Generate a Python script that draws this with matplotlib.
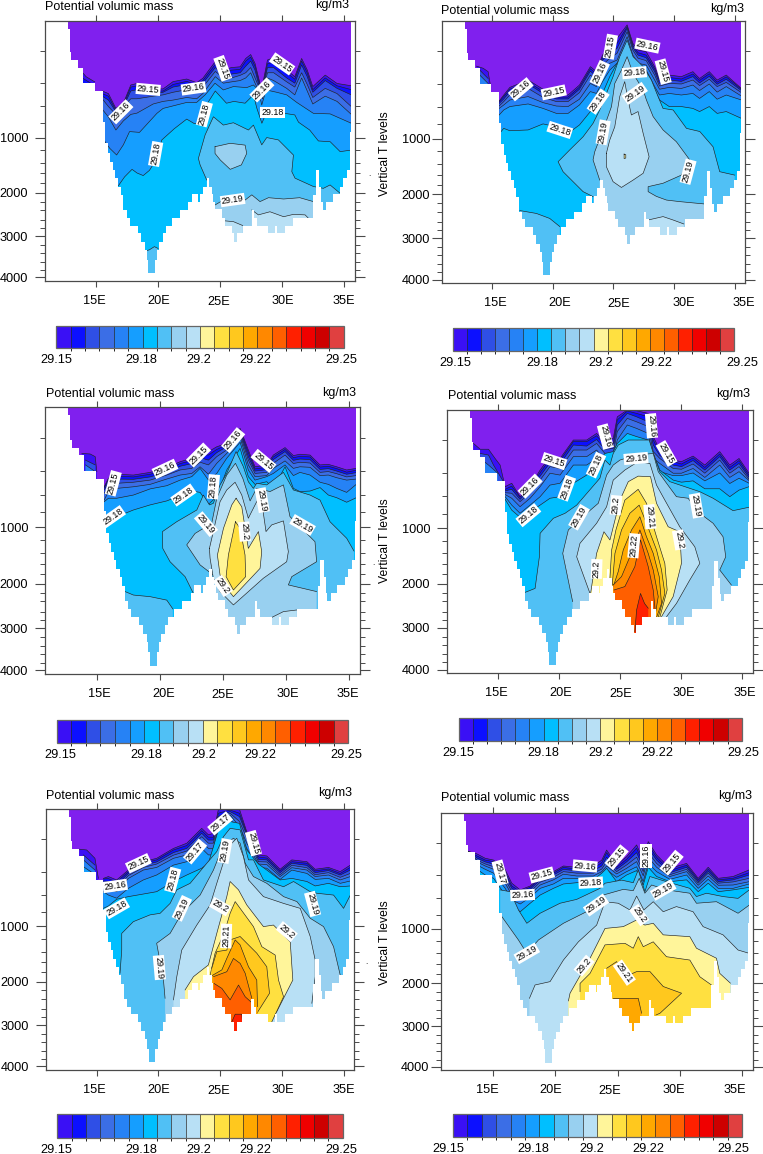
import matplotlib
matplotlib.use('Agg')
import numpy as np
import matplotlib.pyplot as plt
from matplotlib.colors import ListedColormap, BoundaryNorm
from matplotlib.cm import ScalarMappable
from matplotlib.transforms import ScaledTranslation

plt.rcParams['font.family'] = ['Liberation Sans', 'DejaVu Sans']

W, H = 763, 1154

# colour levels
levels = [29.15, 29.155, 29.16, 29.165, 29.17, 29.175, 29.18, 29.185, 29.19, 29.195, 29.2,
          29.205, 29.21, 29.215, 29.22, 29.225, 29.23, 29.235, 29.24, 29.245, 29.25]
colors = ['#3A10F5', '#0C10FF', '#2F4FE6', '#3B6EE6', '#2682F5', '#159EFF', '#00BFFF', '#50C0F5',
          '#98D0F0', '#B8E0F5', '#FFF59A', '#FFE040', '#FFC81E', '#FFA800', '#FF8800', '#FF5F00',
          '#FF2000', '#F00000', '#CD0000', '#E04040']
purple = '#8020EE'
cbar_ticks = [29.15, 29.18, 29.2, 29.22, 29.25]
cbar_labels = ['29.15', '29.18', '29.2', '29.22', '29.25']

# vertical axis: y is the T level (0-100), ticks are labelled in metres
depth_major = [1000, 2000, 3000, 4000]
lev_major = [44.95, 66.1, 82.8, 98.6]
lev_minor = [11.5, 24.05, 32.8, 39.4, 49.7, 54.55, 58.6, 62.5, 69.5, 72.7, 76.6, 79.75, 86.2, 89.4, 92.6, 95.8]
lon_ticks = [15, 20, 25, 30, 35]
lon_labels = ['15E', '20E', '25E', '30E', '35E']

# sea floor and coast (level of the bottom, per longitude step)
bottom_lon = [10, 12.75, 12.9, 13.0, 13.58, 13.98, 14.92, 15.55, 15.75, 15.94, 16.13, 16.35, 16.53, 16.8, 16.99,
              17.2, 17.47, 17.74, 18.36, 18.62, 18.95, 19.08, 19.21, 19.75, 19.94, 20.1, 20.37, 20.64, 21.1,
              21.76, 22.43, 22.7, 23.24, 23.38, 23.64, 23.91, 24.1, 24.31, 24.45, 24.58, 25.12, 25.39, 25.92,
              26.14, 26.33, 26.81, 27.54, 27.72, 27.94, 28.88, 29.41, 29.6, 30.22, 30.89, 32.5, 32.71, 32.98,
              33.14, 33.25, 33.52, 34.06, 34.65, 34.92, 35.18, 35.45, 35.52, 36]
bottom_lev = [-1, 3, 12.2, 15.1, 18, 24, 27, 38.8, 47.1, 51, 54.1, 57.3, 60.5, 63.7, 67,
              72.7, 75.7, 78.7, 81.7, 84.9, 88.1, 91.9, 97, 91.9, 88, 85, 81.7, 78.7, 75.7,
              72.7, 69.5, 66.7, 69.5, 66.7, 63.7, 60.5, 63.7, 66.7, 69.5, 72.3, 75.7, 78.7, 81.7,
              84.9, 81.7, 78.7, 72.7, 75.7, 78.7, 81.7, 78.7, 81.7, 78.7, 75.7, 66.9, 57.3, 63.7,
              69.8, 72.7, 69.8, 66.7, 63.7, 60.5, 57.3, 42.6, -1, -1]

# panel 1 -------------------------------------------------------------
p1_lon = [15.5, 16.0, 16.6, 17.2, 17.8, 18.3, 19.6, 20.4, 21.2, 22.3, 23.1, 23.6, 24.6, 25.25, 25.9, 26.6, 27.05,
          27.45, 27.8, 28.2, 28.4, 28.8, 29.3, 30.35, 31.0, 31.55, 32.0, 32.45, 33.45, 34.4, 35.55]
p1_15 = [27, 28, 33.7, 31.7, 24.7, 24.1, 26.2, 26.2, 23.4, 22.4, 23.8, 22.1, 15.7, 18.9, 18, 17.7, 14.5, 13, 16.4, 24.1, 24.7, 15.1, 14.2, 18.9, 21.5, 14.5, 18.9, 25.3, 20.9, 24.1, 25]
p1_155 = [28, 29, 34.5, 32.5, 25.5, 25, 27, 27, 24.5, 23.3, 24.8, 23, 16.8, 20, 19, 18.7, 15.5, 14, 17.5, 25, 26, 16.5, 16, 20, 22.5, 15.5, 20, 26.5, 22, 25, 26.5]
p1_16 = [29, 30.5, 35, 33, 27, 26.5, 28, 27.5, 25.5, 24.5, 25.5, 24, 18, 21, 20.5, 20, 17.5, 15.5, 19, 26.5, 27, 18, 18, 22, 24, 17, 21.5, 27.5, 23, 26, 28.5]
p1_165 = [30, 33, 36, 33, 30, 30, 29, 28.5, 27.5, 26.5, 27, 25.5, 19.5, 22, 22, 21, 20, 18, 22, 26.5, 28, 20, 20, 23.5, 25.5, 20, 24.5, 29.5, 26, 28, 33]
p1_17 = [34, 37, 42, 38.5, 36, 35.5, 32, 31, 30.5, 29.5, 30, 28, 21.5, 24, 23.5, 23, 22, 20, 24, 28, 30, 22, 23, 26, 28.5, 22, 27, 32, 29, 31, 36]
p1_lines = [
    (29.15, [13.75, 14.2, 14.9], [19, 21.5, 23.5]),
    (29.155, [13.9, 14.9], [22, 25]),
    (29.175, [15.5, 15.75, 16.1, 16.66, 17.2, 17.7, 18.5, 19.9, 20.4, 22.3, 23.1, 23.78, 24.58, 25.25, 26.06, 27.13, 27.67, 28.07, 28.34, 28.69, 29.55, 30.35, 31.16, 32.5, 33.84, 35.55],
     [44, 46.7, 49, 51.6, 47.7, 42.6, 42.9, 35.6, 33.7, 31.4, 31.4, 28.5, 24, 26.6, 25.3, 25.7, 24.7, 26.6, 32.4, 26.6, 27.5, 28.5, 31.4, 35.6, 35.8, 39.4]),
    (29.18, [16.8, 17.3, 17.9, 18.3, 18.8, 19.3, 19.75, 20.3, 21.3, 22.3, 22.9, 23.3, 23.8, 24.6, 25.5, 26.1, 27.0, 27.67, 27.95, 28.35, 28.74, 29.3, 30.2, 31.0, 31.3, 32.2, 32.9, 33.85, 34.65, 35.55],
     [63.4, 60, 57.1, 58.5, 59.5, 57.5, 54.1, 45.8, 41.5, 37.8, 39.5, 39.5, 33, 27, 31.7, 31, 31.7, 28.5, 33.7, 39.4, 35, 35.3, 35.6, 36.2, 39, 42, 46.2, 46.5, 50.3, 49.7]),
    (29.185, [23.91, 23.38, 23.24, 23.78, 24.45, 25.25, 26.06, 27.27, 27.67, 28.34, 28.74, 29.68, 30.89, 30.76, 31.02, 32.5, 33.3, 33.84, 34.65, 34.92],
     [61.2, 55.4, 52.9, 43.9, 36.9, 40.1, 39.2, 42, 40.1, 47.7, 44.9, 45.8, 51.6, 58, 60.5, 63.7, 64.4, 63.1, 66.3, 69.5]),
    (29.185, [19.0, 19.3, 19.7, 20.0], [88.5, 88, 86.8, 87.5]),
    (29.19, [24.58, 25.25, 26.06, 27, 27.54, 28.2, 28.88, 30.1, 31.4, 32.5], [70.8, 68.9, 68.9, 68.9, 66.9, 69.5, 68, 68.5, 68, 69.5]),
    (29.19, [24.58, 25.8, 27, 27.13, 26.7, 25.8, 25, 24.58, 24.58], [48.4, 47.1, 47.8, 51, 55.4, 57.1, 53.5, 51, 48.4]),
    (29.195, [25.39, 26.06, 26.81], [76.9, 77.2, 78.7]),
    (29.195, [27.54, 28.07, 29, 30.1, 30.89, 31.83, 32.1], [72.7, 74.6, 73.4, 75.3, 74.4, 74.6, 75.9]),
]
p1_text = [('29.15', 19.2, 26.4, -5), ('29.16', 17, 35, 45), ('29.16', 22.85, 26, 8), ('29.15', 25.2, 18.3, -70),
           ('29.16', 28.35, 26.6, 45), ('29.15', 29.98, 16.6, -35), ('29.18', 23.72, 35.9, 75), ('29.18', 29.2, 35.3, 0),
           ('29.18', 19.8, 51.2, 80), ('29.19', 26, 68.9, 8)]

# panel 2 -------------------------------------------------------------
p2_lon = [15.58, 15.96, 16.46, 17.97, 19.2, 20.3, 21.26, 22.2, 23.1, 23.6, 24.1, 24.7, 25.3, 26.13, 26.6, 27.03, 27.7, 28.4, 28.8, 29.6, 30.6, 31.55, 32.1, 32.9, 33.55, 34.3, 35.55]
p2_15 = [30.6, 28.3, 25.4, 22.6, 26.1, 28.3, 28.3, 24.5, 17.5, 19.4, 13.1, 9.9, 6.7, 1.6, 8.6, 11.2, 11.8, 17.5, 22, 20.7, 21.3, 19.4, 22, 19.4, 22.6, 20.7, 25.8]
p2_155 = [30.8, 28.9, 26.1, 23.4, 26.9, 29.1, 29.1, 25.3, 18.3, 20.2, 14, 11.2, 8.6, 2.3, 9.4, 12.2, 13.1, 18.4, 22.8, 21.6, 22.2, 20.3, 22.7, 20.2, 23.4, 21.4, 26.1]
p2_16 = [31.5, 29.8, 27, 24.1, 27.7, 29.8, 29.8, 26.1, 19.2, 21.3, 15, 12.7, 10.5, 2.9, 10.2, 13.1, 14.1, 19.4, 23.9, 22.6, 23.1, 21.3, 23.7, 21.2, 24.2, 22.3, 26.6]
p2_165 = [32.5, 30.8, 28.3, 25.8, 29.2, 30.8, 30.8, 27.4, 20.7, 22.6, 16.9, 14.3, 12.4, 4.2, 11.2, 14.3, 15.2, 20.7, 24.9, 23.9, 24.1, 22.6, 24.7, 22.3, 25.1, 23.5, 27.4]
p2_17 = [33.4, 32.1, 30.2, 28.9, 31.2, 32.5, 32.7, 29.9, 23.9, 25.1, 19.4, 16.2, 15, 6.1, 13.1, 16.2, 16.9, 22.6, 26.1, 25.4, 25.8, 24.5, 26.6, 24.1, 27.2, 25.1, 28.7]
p2_175 = [35.9, 34, 32.7, 31.7, 33.4, 35.3, 35.3, 32.1, 27, 27.7, 23.2, 18.8, 16.2, 8.6, 15, 18.1, 18.8, 25.1, 28.3, 27.7, 28.3, 27.7, 29.6, 27, 29.9, 28.3, 30.2]
p2_18 = [43.1, 41, 41.9, 41.6, 39.3, 40.4, 42.9, 39.7, 34.6, 31.5, 27.7, 21.3, 16.2, 11.8, 17.5, 20.7, 20.7, 26.4, 30.2, 32.7, 32.7, 33.4, 34.6, 32.7, 35.3, 34.6, 37.2]
p2_lines = [
    (29.15, [13.71, 14.26, 14.67, 14.86], [17.3, 18.1, 19.4, 24.5]),
    (29.16, [13.98, 14.67], [18.8, 22]),
    (29.17, [13.98, 14.67], [20.7, 23.9]),
    (29.185, [23.32, 22.5, 20.85, 20.44, 21.4, 22.5, 23.32, 23.87, 24.42, 24.97, 25.52, 26.13, 26.62, 27.45, 28.13, 28.68, 29.09, 29.92, 31.02, 32.12, 33.21, 33.76, 35],
     [67, 65.1, 57.5, 53.7, 49.2, 44.2, 39.1, 34, 27.7, 21.3, 13.7, 7.4, 13.7, 17.5, 22.6, 28.9, 33.4, 34, 41, 42.2, 48, 57.5, 58.8]),
    (29.185, [17.28, 18.65, 19.75, 20.58], [72.3, 73.4, 75.3, 78.4]),
    (29.19, [23.87, 23.32, 23.46, 24.15, 24.84, 25.11, 25.66, 26.13, 26.62, 27.45, 27.72, 28.27, 29.09, 30.19, 31.29, 30.6, 29.09, 27.86, 27.86, 28.54, 29.37, 30.47, 32.53],
     [60.7, 53, 49.9, 41.6, 32.7, 23.9, 18.8, 13.7, 20.1, 26.4, 30.2, 36.5, 41.6, 46.1, 53, 58.8, 61.9, 63.2, 65.1, 66.9, 68.3, 68.9, 69.8]),
    (29.195, [24.42, 24.7, 25.11, 25.52, 25.93, 26.21, 26.48, 27.03, 27.45, 27.94, 27.45, 26.62, 25.66, 24.97, 24.42, 24.42],
     [50.5, 45.4, 40.4, 28.9, 23.2, 30.2, 35.9, 34.6, 42.9, 51.8, 58.1, 60.7, 63.5, 61.3, 55.6, 50.5]),
    (29.195, [27.86, 29.09, 29.92, 30.8], [75.9, 74.6, 75.9, 77.4]),
    (29.2, [25.88, 26.02, 26.02, 25.88, 25.88], [50.8, 51, 52.3, 52.5, 50.8]),
]
p2_text = [('29.16', 17.36, 26.1, 40), ('29.15', 20.08, 27.3, 12), ('29.18', 20.58, 41.6, -18), ('29.18', 23.74, 30.8, 55),
           ('29.16', 23.87, 20, 65), ('29.15', 24.75, 9.9, 80), ('29.16', 27.8, 9.5, -12), ('29.18', 26.73, 19.8, 5),
           ('29.19', 26.76, 27.7, 35), ('29.19', 24.15, 42.5, 80), ('29.15', 29.1, 19.4, -75), ('29.19', 31.15, 57.5, 75)]

# panel 3 -------------------------------------------------------------
p3_lon = [15.58, 15.92, 16.58, 17.9, 19.22, 20.54, 21.6, 22.52, 23.18, 23.84, 24.5, 25.29, 26.35, 27, 27.53, 28.46, 28.98, 29.91, 30.57, 31.09, 31.89, 32.68, 33.34, 34, 34.79, 35.55]
p3_15 = [29.8, 26.6, 25.1, 25.4, 24.4, 22.6, 20.4, 19.1, 16.6, 16.6, 14.8, 13.5, 7.9, 16, 22.3, 21.6, 17.9, 15.1, 18.1, 17.6, 17.9, 21.6, 21.4, 22.3, 23.5, 22.9]
p3_155 = [30.1, 27.3, 25.8, 26.1, 25.1, 23.4, 21.1, 20, 17.6, 17.9, 15.8, 14.1, 8.5, 17, 23.1, 22.5, 18.6, 15.8, 18.9, 18.4, 18.6, 22.4, 22.1, 23, 24.3, 23.6]
p3_16 = [31, 28.3, 26.9, 27, 26.1, 24.3, 22.1, 21.1, 18.9, 19.8, 17, 14.8, 9.1, 18.5, 23.9, 23.4, 19.6, 16.6, 19.9, 19.4, 19.6, 23.3, 23, 23.9, 25.1, 24.5]
p3_165 = [32.3, 29.8, 28.5, 28.1, 27.3, 25.4, 23.5, 22.9, 20.6, 21.6, 18.5, 16, 10.1, 19.8, 24.8, 24.4, 21, 17.9, 21.1, 20.6, 20.9, 24.4, 24.1, 24.9, 26.1, 25.6]
p3_17 = [34.8, 31.6, 30.4, 29.8, 28.9, 26.9, 25.4, 24.8, 22.3, 25.1, 21, 17.3, 11.3, 21.6, 26, 25.6, 22.9, 20.1, 22.9, 22.3, 22.5, 25.6, 25.4, 26.4, 27.3, 26.9]
p3_175 = [35.4, 34.1, 34.1, 32.9, 30.6, 29.4, 27.3, 26, 22.9, 27.3, 24.8, 19.1, 13.1, 23.5, 27.3, 26, 24.8, 21.6, 25.6, 24.4, 25.4, 28.1, 28.9, 30.4, 31.9, 28.9]
p3_18 = [39.8, 40.6, 41, 38.5, 36.6, 35.1, 33.1, 31.4, 31.9, 36.4, 33.5, 23.5, 15.4, 26, 28.9, 27.9, 30.4, 22.3, 30.4, 31.6, 31.4, 30.1, 32.9, 33.9, 35.6, 33.9]
p3_lines = [
    (29.15, [13.81, 14.47, 14.87, 15], [17.3, 17.5, 18.5, 24.1]),
    (29.16, [14.1, 14.87], [19.8, 21.6]),
    (29.17, [14.1, 14.87], [21.6, 24.1]),
    (29.185, [22.65, 21.99, 20.8, 20.22, 20.2, 21.33, 22.92, 23.44, 23.92, 24.23, 24.76, 25.29, 26.03, 26.61, 27, 27.4, 27.66, 28.46, 29.78, 30.57, 31.89, 32.68, 33.47, 34.79, 35.37],
     [69.8, 63.5, 57.9, 52.9, 46.6, 42.9, 38.5, 32.9, 36.6, 36, 29.1, 24.8, 16.6, 22.3, 27.9, 30.4, 28.5, 29.1, 24.4, 31, 32.9, 34.8, 42.9, 49.1, 53.9]),
    (29.185, [17.24, 17.9, 19.22, 20.54, 21.02], [69.1, 70.4, 71, 72.3, 75.6]),
    (29.19, [24.23, 23.18, 22.12, 22.78, 24.1, 24.5, 25.29, 25.98, 26.56, 27.14, 27.66, 28.72, 29.78, 30.3, 32.28, 32.41, 30.44, 30.17, 32.41],
     [62.9, 59.1, 51.6, 47.3, 43.5, 34.1, 25.4, 21, 26.6, 35.1, 30.4, 31.6, 29.1, 41, 50.4, 57.9, 63.5, 66.6, 69.1]),
    (29.195, [23.92, 24.23, 24.76, 25.29, 25.95, 26.48, 27, 27.8, 28.06, 28.4, 28.85, 29.78, 30.17, 30.04, 28.19, 25.82, 24.76, 24.23, 23.97, 23.92],
     [52.9, 46.6, 35.4, 31, 28.1, 32.9, 41.6, 34.1, 35.4, 46.6, 44.1, 42.6, 54.1, 57.9, 64.1, 74.1, 69.1, 64.1, 56.6, 52.9]),
    (29.195, [28.85, 29.78, 30.83], [78.8, 76.6, 76]),
    (29.2, [26.03, 26.48, 27, 27.8, 28.06, 27.93, 25.82, 25.29, 24.76, 24.55, 25.03, 25.69, 26.03],
     [34.1, 37.3, 52.9, 46.6, 54.1, 60.4, 71, 67.9, 62.9, 55.4, 45.4, 36.6, 34.1]),
    (29.205, [25.98, 26.35, 26.74, 26.79, 25.82, 25.24, 25.42, 25.98], [42.9, 45.4, 55.4, 63.5, 68.5, 63.5, 55.4, 42.9]),
]
p3_text = [('29.15', 16.3, 28.5, 75), ('29.18', 16.27, 41, 35), ('29.16', 20.4, 23.1, 25), ('29.15', 23.05, 17.9, 45),
           ('29.16', 25.8, 12.3, 50), ('29.15', 28.2, 20.1, -40), ('29.18', 21.86, 32.9, 35), ('29.18', 24.23, 29.8, 85),
           ('29.19', 28.1, 34.8, -80), ('29.19', 23.65, 43.8, -50), ('29.19', 31.3, 44.1, -30), ('29.2', 26.7, 46.6, -85),
           ('29.2', 24.97, 67, -55)]

# panel 4 -------------------------------------------------------------
p4_lon = [15.6, 16.14, 16.82, 17.64, 18.46, 19.27, 20.09, 21.18, 22.27, 23.08, 23.76, 24.44, 24.77, 25.59, 26.35, 27.3, 27.71, 28.25, 29.34, 30.02, 30.97, 31.93, 33.15, 33.97, 34.73, 35.55]
p4_15 = [29.2, 27.9, 33, 29.2, 22.9, 17.8, 18.5, 11.5, 11.5, 9, 12.1, 10.9, 2.7, 0.1, 0.4, 1.4, 10.2, 15.3, 19.1, 19.7, 17.6, 21, 15.9, 21, 18.5, 24.1]
p4_155 = [30.2, 29, 33.2, 29.6, 23.9, 18.7, 19.3, 12.1, 12.1, 9.9, 13.4, 12.8, 3.9, 0.5, 1.4, 2.7, 11.5, 16.3, 19.7, 20.6, 18.3, 21.9, 16.8, 21.9, 19.3, 24.9]
p4_16 = [30.8, 30.2, 34, 30.2, 25.2, 20.1, 20.6, 13.4, 13.8, 11.3, 15, 14.7, 5.8, 1.4, 2.7, 4.6, 13.4, 17.4, 21, 21.6, 19.3, 22.9, 17.8, 22.9, 20.4, 25.7]
p4_165 = [31.5, 31.7, 34.9, 31.5, 26.7, 21.6, 22.3, 15.3, 15.3, 12.8, 16.6, 16.6, 8.3, 3.3, 4.6, 6.4, 15.9, 18.5, 22.3, 22.6, 20.6, 24.1, 19.1, 24.1, 21.6, 26.4]
p4_17 = [32.2, 33.6, 36.8, 33.6, 29.2, 24.1, 24.8, 17.8, 17.8, 15.3, 19.1, 19.1, 11.5, 5.8, 7.1, 9, 18.5, 20.4, 24.1, 24.1, 22.3, 25.7, 21, 25.7, 23.5, 26.9]
p4_175 = [33, 36.2, 39.3, 36.2, 33, 28.6, 27.9, 21, 21, 18.5, 22.3, 21.6, 14.7, 9.6, 10.9, 12.8, 21, 23.5, 25, 25, 24, 27, 24, 28, 26, 27.9]
p4_18 = [34, 38.1, 40.8, 38.7, 36.2, 33.6, 33, 27.9, 24.8, 21, 16.6, 15.9, 12.8, 9, 10.2, 11.5, 16.6, 22.9, 26.7, 27.5, 27, 30, 30, 33, 30.5, 29.2]
p4_lines = [
    (29.15, [13.01, 13.56, 14.24, 14.78, 15.19, 15.6], [12.8, 15, 15, 18.5, 21, 29.2]),
    (29.16, [13.56, 14.24, 14.65, 15.46], [16.6, 17.2, 21, 27.3]),
    (29.17, [13.56, 14.24, 15], [18.5, 21, 24.1]),
    (29.185, [17.23, 18.05, 18.4, 18.46, 19.54, 20.5, 21.45, 22.4, 23.35, 23.76, 24.17, 24.44, 24.85, 25.67, 26.62, 27.38, 27.76, 28.25, 29.07, 31.52, 32.61, 34.24, 35.55],
     [69.3, 67.8, 55.8, 46.9, 41.2, 39.3, 36.2, 31.1, 26, 19.1, 21, 16.6, 13.4, 11.5, 11.5, 11.5, 17.2, 23.5, 27.3, 31.1, 33.6, 38.3, 37]),
    (29.19, [21.12, 20.31, 20.77, 22.27, 23.22, 23.9, 24.44, 24.99, 26.35, 27.71, 28.12, 28.8, 29.61, 30.56, 31.52, 32.61, 33.42, 33.64, 33.15, 34.1],
     [72.8, 54.5, 45.6, 39.3, 35.5, 24.8, 21, 19.1, 17.2, 16.6, 23.5, 27.9, 33, 33.6, 39.3, 43.1, 48.2, 55.8, 60.8, 66.5]),
    (29.195, [22.54, 21.45, 21.72, 23.08, 23.9, 24.44, 25.39, 26.48, 27.44, 27.98, 28.66, 29.88, 31.11, 31.52, 30.7, 29.61, 28.8],
     [69.7, 55.8, 50.7, 43.1, 36.8, 26.7, 22.9, 19.7, 20.4, 28.6, 34.3, 44.4, 52, 58.3, 64.6, 73.5, 78.5]),
    (29.2, [22.59, 23.08, 23.68, 24.17, 24.31, 24.99, 25.67, 26.48, 27.49, 27.98, 28.93, 29.88, 30.02, 29.34, 28.39],
     [69.7, 54.5, 46.3, 49.4, 46.9, 34.3, 27.3, 25.2, 25.4, 35.5, 44.4, 46.3, 58.3, 70.9, 78.5]),
    (29.205, [24.17, 24.31, 24.66, 25.39, 26.48, 27.16, 27.98, 28.66, 28.85, 28.25], [64, 53.2, 45.6, 34.3, 30.2, 35.5, 48.2, 58.3, 68.4, 78.8]),
    (29.21, [24.36, 24.58, 25.12, 25.8, 26.56, 27.16, 27.98, 28.39, 28.66, 28.12], [66.5, 54.5, 45.6, 39.3, 36.2, 43.1, 53.2, 60.8, 69.7, 78.8]),
    (29.215, [24.44, 24.85, 25.26, 25.94, 26.62, 27.16, 27.71, 28.2, 28.39, 27.98], [67.1, 61.4, 53.2, 45.6, 40.6, 48.2, 54.5, 63.3, 73.5, 78.8]),
    (29.22, [24.44, 25.12, 25.8, 26.62, 27.3, 27.71, 28.12, 27.84], [66.5, 63.3, 55.8, 45.6, 54.5, 60.8, 70.9, 78.8]),
    (29.225, [24.5, 25.39, 26.21, 26.67, 27.3, 27.71, 27.87], [68.4, 67.1, 59.5, 49.4, 59.5, 68.4, 76]),
    (29.23, [26.21, 26.35, 26.67, 27.0, 27.3], [84.2, 76, 69.7, 73.5, 75.3]),
]
p4_text = [('29.16', 17.64, 29, 45), ('29.15', 19.6, 19.5, -18), ('29.16', 23.8, 10.2, -75), ('29.16', 27.57, 6.1, -85),
           ('29.15', 28.8, 16.6, -60), ('29.18', 23.03, 21, 65), ('29.18', 20.63, 29.8, 70), ('29.18', 17.5, 40, 40),
           ('29.19', 26.3, 18.5, 5), ('29.19', 21.64, 40.8, 60), ('29.2', 24.66, 36.2, 85), ('29.21', 27.44, 40.6, -85),
           ('29.22', 26.13, 51.6, 85), ('29.2', 29.83, 49.4, -80), ('29.19', 31.24, 36.4, -80), ('29.2', 23.08, 60.4, 88)]

# panel 5 -------------------------------------------------------------
p5_lon = [15.54, 15.95, 16.62, 17.57, 18.78, 19.86, 21.22, 22.3, 23.51, 24.05, 24.46, 24.86, 25.81, 26.57, 27.16, 28.11, 28.78, 29.86, 30.81, 32.03, 32.7, 33.78, 34.73, 35.55]
p5_15 = [26.5, 25.8, 27.1, 23.3, 20.1, 18.8, 15, 13, 7.3, 9.8, 9.2, 0, 0, 0, 8.6, 17.5, 17.9, 23, 19.4, 20.1, 23, 22.3, 23.9, 21.4]
p5_155 = [26.7, 26.6, 27.9, 23.9, 20.7, 19.4, 15.6, 13.9, 8.2, 10.7, 10.7, 1.5, 0.3, 1.5, 9.2, 18.3, 18.7, 23.6, 20.1, 20.7, 23.6, 22.9, 24.6, 22.3]
p5_16 = [27.5, 27.7, 29, 24.6, 21.5, 20.2, 16.6, 15, 9.2, 11.8, 11.8, 2.8, 0.9, 2.8, 9.8, 19.2, 19.4, 24.3, 20.7, 21.5, 24.3, 23.5, 25.2, 23.3]
p5_165 = [28.4, 29, 30.3, 25.4, 22.3, 21, 17.6, 16, 10.5, 13, 13, 4.3, 1.5, 4.7, 11.1, 20.1, 20.2, 25.1, 21.5, 22.4, 25.1, 24.3, 26.1, 24.6]
p5_17 = [29.7, 30.3, 31.6, 26.5, 23.3, 22.3, 18.8, 17.5, 12.4, 15, 15, 6, 2.2, 6.6, 13, 21, 21.2, 25.8, 22.4, 23.3, 25.8, 25.2, 27.1, 25.8]
p5_175 = [31.6, 32.9, 34.1, 30.3, 27.1, 25.2, 21.4, 20.1, 15, 17.5, 17.5, 9.2, 3.5, 9.2, 15, 22.3, 22.6, 26.9, 23.3, 24.6, 26.9, 26.5, 28.4, 27.5]
p5_18 = [38, 37.1, 34.5, 33.5, 32.5, 31.6, 27.7, 25.2, 22.6, 20.7, 14.3, 7.9, 4.7, 5.4, 15.6, 21, 23.3, 27.1, 26.5, 27.7, 29.4, 28.4, 29.7, 29.4]
p5_lines = [
    (29.15, [13.59, 14.19, 14.86, 15.14], [15.3, 15.6, 18.8, 26.5]),
    (29.16, [13.92, 14.86], [17.5, 21.4]),
    (29.17, [13.92, 14.86], [19.4, 23.3]),
    (29.175, [13.92, 14.86], [22, 25]),
    (29.185, [16.89, 17.03, 17.03, 17.97, 19.32, 20.14, 20.95, 21.49, 22.57, 23.92, 24.73, 25.27, 25.81, 26.62, 27.3, 27.7, 28.51, 30.14, 30.95, 32.3, 32.84, 34.19, 35, 35.55],
     [62.9, 54, 47.6, 43.1, 40.5, 39.9, 36.1, 30.9, 28.4, 20.7, 16.2, 10.5, 7.3, 7.9, 19.4, 19.4, 27.1, 29.7, 27.7, 31.6, 32.2, 32.9, 38, 32.9]),
    (29.19, [20.54, 20.41, 19.86, 20.95, 21.89, 23.38, 24.46, 25, 25.54, 26.08, 26.62, 27.03, 27.7, 28.78, 30.14, 31.22, 32.3, 33.38, 34.19, 34.73],
     [72.5, 65.5, 51.4, 47.6, 39.9, 32.9, 23.3, 16.9, 13, 11.1, 13, 20.7, 25.8, 28.4, 33.5, 35.4, 41.8, 45, 52.7, 63.6]),
    (29.195, [21.22, 21.49, 21.89, 23.11, 24.19, 24.73, 25.68, 26.35, 26.89, 27.3, 28.51, 30.14, 31.49, 32.3, 32.7, 32.7, 32.43],
     [73.1, 64.2, 54, 44.4, 36.7, 28.4, 14.3, 11.1, 18.2, 27.1, 33.5, 36.1, 38, 48.8, 57.8, 64.2, 74.4]),
    (29.2, [22.16, 22.84, 24.05, 24.73, 25.54, 25.81, 26.49, 27.16, 28.51, 29.32, 30.68, 30.89, 29.59, 28.92],
     [69.3, 64.2, 59.7, 47.6, 33.5, 27.7, 30.9, 36.7, 45, 44.4, 50.8, 65.5, 77.6, 81.5]),
    (29.205, [24.19, 24.59, 25.32, 25.81, 26.22, 27.7, 28.38, 29.46, 29.73, 30.14, 29.19], [63.6, 55.2, 47.6, 39.9, 35.4, 45, 52.7, 55.9, 65.5, 71.9, 81.5]),
    (29.21, [24.32, 24.73, 25.54, 25.81, 26.62, 27.97, 28.78, 29, 27.97], [61, 54.6, 54, 50.1, 48.8, 55.2, 60.4, 70.6, 78.3]),
    (29.215, [24.19, 25.14, 25.54, 26.22, 26.62, 27.3, 27.97, 28.03], [64.2, 61.6, 57.2, 50.1, 52, 60.4, 65.5, 75.7]),
    (29.22, [24.46, 25.54, 26.08, 26.62, 27.03, 27.57], [64.2, 62.3, 57.2, 59.1, 62.9, 72.5]),
    (29.225, [24.51, 25.14, 25.81, 26.49, 27.03, 27.57], [66.8, 68.7, 73.1, 67.4, 71.9, 74.2]),
    (29.23, [25.95, 26.22, 26.76, 26.81], [81.5, 78.6, 78.6, 81.5]),
]
p5_text = [('29.15', 18.38, 20.7, 25), ('29.16', 16.49, 29.4, 8), ('29.18', 16.62, 38, 30), ('29.17', 22.97, 16.2, 50),
           ('29.17', 25, 5.4, 40), ('29.15', 27.7, 13, -75), ('29.18', 21.16, 27.1, 75), ('29.19', 25.4, 16, 80),
           ('29.19', 21.9, 38, 65), ('29.19', 20.08, 60.7, -85), ('29.19', 32.49, 36.3, -75), ('29.2', 25, 37.3, -30),
           ('29.21', 25.49, 48.6, 88), ('29.2', 30.4, 46.9, -40)]

# panel 6 -------------------------------------------------------------
p6_lon = [13, 13.75, 14.41, 15.08, 16.01, 16.54, 17.21, 18.01, 18.81, 19.87, 20.67, 21.74, 23.07, 23.74, 24.13, 24.93, 25.73, 26.53, 27.06, 27.46, 28.13, 29.19, 30.53, 31.46, 32.26, 33.06, 34.25, 35.55]
p6_15 = [14.7, 15.8, 17.5, 18.2, 22, 27.2, 29.8, 28.3, 24.6, 22.7, 20.5, 21, 20.5, 18.2, 14.3, 20.1, 16.9, 12.3, 18.2, 11, 16.2, 21.4, 19.5, 25.3, 21, 25.3, 24.6, 22]
p6_155 = [14.7, 16.6, 18.2, 18.8, 23.1, 28.3, 30.5, 28.8, 25.3, 23.3, 21, 21.8, 21.4, 19.2, 15.3, 21, 17.9, 13.6, 19.5, 12.3, 17.1, 22.3, 20.2, 25.9, 21.8, 25.9, 25.3, 23.1]
p6_16 = [14.8, 17.4, 18.9, 19.8, 24.4, 29.2, 31.1, 29.6, 25.9, 24, 21.8, 22.4, 22.3, 20.5, 17.1, 21.8, 18.9, 15.3, 21, 13.6, 18.2, 23.1, 21, 26.6, 22.6, 26.6, 25.9, 24]
p6_165 = [14.9, 18.2, 19.7, 20.8, 25.7, 30.5, 32.2, 30.5, 26.8, 24.9, 22.7, 23.3, 23.3, 21.7, 18.8, 22.7, 20.1, 17.1, 22.7, 15.3, 19.5, 23.9, 21.8, 27.2, 23.3, 27.2, 26.7, 25.3]
p6_17 = [15.2, 18.9, 20.5, 21.8, 27.2, 31.8, 33.1, 31.5, 27.9, 25.9, 23.7, 24.4, 24.4, 22.7, 20.5, 23.6, 21.4, 18.8, 24.3, 17.1, 21, 24.6, 22.7, 28, 24.4, 28, 27.9, 26.6]
p6_175 = [15.6, 20.1, 21.8, 23.3, 29.2, 33.7, 35.3, 32.7, 29.2, 27.5, 25.3, 25.4, 25.4, 24, 22, 24.9, 22.7, 20.8, 26.6, 19.5, 22.7, 25.7, 24, 29.2, 25.7, 29.2, 29.2, 27.5]
p6_18 = [16, 21.8, 24, 25.3, 31.8, 36.1, 38.3, 35, 31.8, 29.2, 27.5, 27, 25.9, 23.3, 21.4, 26.6, 24, 22.3, 27.9, 21, 24.6, 26.6, 25.9, 30.5, 27.2, 30.5, 29.8, 28.8]
p6_lines = [
    (29.185, [15.61, 16.41, 17.07, 17.74, 18.8, 20.4, 21.73, 23.6, 24, 25.33, 26.26, 26.66, 27.19, 27.59, 28.92, 30.79, 31.32, 32.12, 33.45, 34.65, 35.55],
     [29.8, 30.5, 37.6, 42.8, 38.9, 35, 33.5, 29.2, 27.2, 26, 27, 22, 30.5, 24.6, 26.6, 29.2, 32.4, 31.1, 32.4, 33.1, 29.8]),
    (29.19, [15.74, 17.07, 17.74, 18.67, 20.67, 22.8, 23.86, 25.46, 26.26, 26.74, 27.19, 27.73, 28.92, 30.79, 31.32, 32.92, 34.65, 35.55],
     [40.2, 49.3, 54.5, 49.3, 42.8, 37.6, 31.8, 29.6, 30.1, 25.3, 31.1, 27.9, 29.8, 31.1, 35, 34.4, 38.9, 35.7]),
    (29.195, [17.95, 18.4, 19.6, 20.67, 21.87, 23.33, 24, 25.06, 25.99, 26.53, 27.11, 27.86, 28.66, 29.72, 31.05, 31.85, 33.45, 34.65, 35.55],
     [72, 66.8, 65.5, 57.1, 50, 43.5, 34.4, 35, 37.6, 32.2, 37.6, 34.4, 38.3, 36.3, 38.3, 44.1, 47.3, 53.2, 54.5]),
    (29.2, [21.07, 21.2, 22.8, 24, 25.46, 26.53, 27.19, 27.86, 28.66, 30.79, 31.32, 32.92, 33.19, 34.04],
     [73, 70, 56.4, 44.8, 44.1, 41.5, 43.5, 42.8, 47.3, 48, 52.5, 56.4, 62.3, 66.1]),
    (29.205, [22, 22, 22.8, 24, 25.6, 26.26, 26.66, 27.06, 27.86, 28.92, 30.79, 31.59, 32.52],
     [69.4, 66.2, 62.3, 51.2, 50.6, 52.5, 48, 51.9, 50, 55.8, 57.1, 63.6, 66.8]),
    (29.21, [24.13, 24.93, 25.6, 26.53, 27.6, 28.66, 30.13, 28.4, 28.08], [60.3, 57.7, 63.6, 61.6, 61.6, 67.4, 70, 77.8, 78.5]),
    (29.215, [24.67, 26.66, 26.93], [72, 72, 77.8]),
]
p6_text = [('29.17', 15.6, 23.1, -75), ('29.15', 18.94, 24, 15), ('29.16', 22.4, 20.5, -5), ('29.15', 24.93, 17.1, 50),
           ('29.16', 27.28, 16.6, 90), ('29.15', 29.33, 19.2, 50), ('29.16', 17.4, 31.8, 3), ('29.18', 22.86, 27, 3),
           ('29.19', 28.66, 29.8, 30), ('29.19', 23.28, 35.7, 35), ('29.2', 26.74, 39.6, -55), ('29.19', 17.74, 54.5, 30),
           ('29.2', 22.32, 59.3, 50), ('29.21', 25.55, 62, -55)]


def stack(lon, *rows):
    # surface isolines share one longitude array
    return [(lev, lon, r) for lev, r in zip(levels, rows)]


panels = [
    dict(box=(44.7, 355.3, 20.7, 281), bar=(56.3, 343.7, 325.7, 348.3), title=(44.7, 7.3), unit=(349, 5.3), dot=(369.3, 175.7),
         xoff=[-1.7, 1, -1.7, 0, -1], baroff=[-.3, -1, -.7, -1.7, -2], ypad=4.6,
         lines=stack(p1_lon, p1_15, p1_155, p1_16, p1_165, p1_17) + p1_lines, text=p1_text),
    dict(box=(442, 745.3, 20.7, 283.3), bar=(453.3, 733.7, 328.3, 351.3), title=(441, 11), unit=(744, 9), ylab=(385, 154),
         xoff=[3, 7, 5.7, 9.3, 9], baroff=[2.3, 5.3, 7, 7, 9], ypad=1.4,
         lines=stack(p2_lon, p2_15, p2_155, p2_16, p2_165, p2_17, p2_175, p2_18) + p2_lines, text=p2_text),
    dict(box=(44.7, 360.3, 407.3, 674), bar=(56.7, 348.3, 720, 743.3), title=(45.7, 394), unit=(355.7, 393.3), dot=(373.3, 565),
         xoff=[2.3, 3.7, -.7, 1.3, -1.3], baroff=[4, 2.3, 1.7, -.3, -2], ypad=4.6,
         lines=stack(p3_lon, p3_15, p3_155, p3_16, p3_165, p3_17, p3_175, p3_18) + p3_lines, text=p3_text),
    dict(box=(447.3, 753, 409.7, 673.3), bar=(458.7, 741.7, 718.3, 741.3), title=(447.7, 395.7), unit=(750, 394), ylab=(385, 540.7),
         xoff=[-1, 2.3, .3, 3, 2.7], baroff=[-.7, 0, 1, 1, 2], ypad=5,
         lines=stack(p4_lon, p4_15, p4_155, p4_16, p4_165, p4_17, p4_175, p4_18) + p4_lines, text=p4_text),
    dict(box=(45.7, 354.3, 809.3, 1070), bar=(57.3, 342.7, 1114.3, 1137.7), title=(46.3, 796), unit=(351.7, 792.7), dot=(366.7, 964),
         xoff=[-2.3, .3, -1.7, 1, 0], baroff=[-1.3, -1.3, -.7, -1.3, -1], ypad=5,
         lines=stack(p5_lon, p5_15, p5_155, p5_16, p5_165, p5_17, p5_175, p5_18) + p5_lines, text=p5_text),
    dict(box=(441, 753.3, 813.3, 1070.3), bar=(452.7, 742, 1113.7, 1137), title=(441.3, 798.3), unit=(751.7, 796), ylab=(385, 943),
         xoff=[-5.7, -4.3, -7.7, -6, -7.3], baroff=[-4.7, -5.7, -5.3, -7.3, -8.3], ypad=1,
         lines=stack(p6_lon, p6_15, p6_155, p6_16, p6_165, p6_17, p6_175, p6_18) + p6_lines, text=p6_text),
]

cmap = ListedColormap(colors)
norm = BoundaryNorm(levels, cmap.N)
axis_col = '#4a4a4a'

fig = plt.figure(figsize=(W / 100, H / 100), dpi=100, facecolor='white')


def px_axes(x0, x1, y0, y1):
    return fig.add_axes([x0 / W, 1 - y1 / H, (x1 - x0) / W, (y1 - y0) / H])


def nudge(labels, dxs, dys=None):
    # tick labels do not sit exactly under their ticks in the original
    for i, (lab, dx) in enumerate(zip(labels, dxs)):
        dy = dys[i] if dys else 0
        lab.set_transform(lab.get_transform() + ScaledTranslation(dx / 100, dy / 100, fig.dpi_scale_trans))


for p in panels:
    ax = px_axes(*p['box'])
    ax.set_facecolor(purple)
    ax.set_xlim(10.87, 35.87)
    ax.set_ylim(100, 0)

    # densest last, each isoline fills everything below it
    for lev, lon, dep in sorted(p['lines'], key=lambda l: l[0]):
        col = colors[levels.index(lev)]
        closed = lon[0] == lon[-1] and dep[0] == dep[-1]
        if closed:
            ax.fill(lon, dep, color=col, lw=0, zorder=2)
        else:
            ax.fill(list(lon) + [lon[-1], lon[0]], list(dep) + [102, 102], color=col, lw=0, zorder=2)
        ax.plot(lon, dep, color='#222222', lw=0.45, zorder=2)

    ax.fill_between(bottom_lon, bottom_lev, 102, step='post', color='white', lw=0, zorder=3)

    for txt, lon, dep, rot in p['text']:
        ax.text(lon, dep, txt, fontsize=6.4, rotation=rot, ha='center', va='center', rotation_mode='anchor', zorder=5,
                bbox=dict(facecolor='white', edgecolor='none', pad=0.8))

    ax.set_xticks(lon_ticks)
    ax.set_xticklabels(lon_labels)
    ax.set_yticks(lev_major)
    ax.set_yticklabels([str(d) for d in depth_major])
    ax.set_yticks(lev_minor, minor=True)
    ax.tick_params(axis='x', which='major', top=True, direction='out', length=4.6, width=0.8, color=axis_col, labelsize=9.2, pad=5.5)
    ax.tick_params(axis='y', which='major', right=True, direction='out', length=7.2, width=0.8, color=axis_col, labelsize=9.2, pad=p['ypad'])
    ax.tick_params(axis='y', which='minor', right=True, direction='out', length=3.6, width=0.7, color=axis_col)
    nudge(ax.get_xticklabels(), p['xoff'], [0, 0, -1, 0, 0])
    for s in ax.spines.values():
        s.set_color(axis_col)
        s.set_linewidth(0.9)
        s.set_zorder(6)

    x, y = p['title']
    fig.text(x / W, 1 - y / H, 'Potential volumic mass', fontsize=9, ha='left', va='center')
    x, y = p['unit']
    fig.text(x / W, 1 - y / H, 'kg/m3', fontsize=9, ha='right', va='center')
    if 'ylab' in p:
        x, y = p['ylab']
        fig.text(x / W, 1 - y / H, 'Vertical T levels', fontsize=8.7, rotation=90, ha='center', va='center')
    if 'dot' in p:
        x, y = p['dot']
        fig.text(x / W, 1 - y / H, '.', fontsize=6, ha='center', va='baseline')

    cax = px_axes(*p['bar'])
    cb = fig.colorbar(ScalarMappable(norm=norm, cmap=cmap), cax=cax, orientation='horizontal', spacing='uniform',
                      drawedges=True, ticks=cbar_ticks)
    cb.ax.set_xticklabels(cbar_labels)
    cb.ax.tick_params(length=0, labelsize=9.2, pad=4.2)
    nudge(cb.ax.get_xticklabels(), p['baroff'])
    cb.dividers.set_color('#2a2a2a')
    cb.dividers.set_linewidth(0.5)
    cb.outline.set_edgecolor('#666666')
    cb.outline.set_linewidth(0.9)

fig.savefig('out.png', dpi=100)
